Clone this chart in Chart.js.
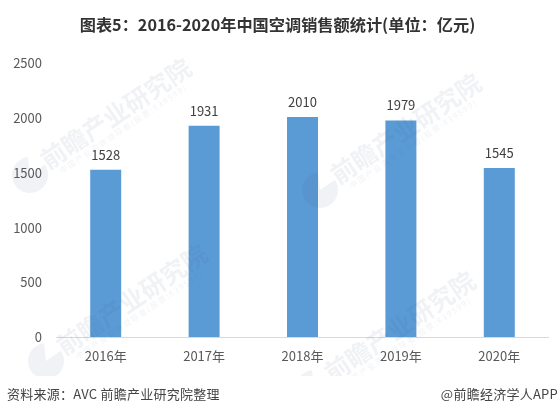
<!DOCTYPE html>
<html lang="zh-CN">
<head>
<meta charset="utf-8">
<title>中国空调销售额统计</title>
<script src="https://cdn.jsdelivr.net/npm/chart.js@4"></script>
<style>
  html, body { margin: 0; padding: 0; background: #fff; }
  #wrap { position: relative; width: 558px; height: 415px; overflow: hidden; font-family: "Noto Sans CJK SC", sans-serif; }
  #chart { position: absolute; left: 0; top: 0; }
  #title { position: absolute; left: 0; width: 555px; top: 13px; text-align: center; font-size: 16.2px; line-height: 22px; font-weight: 700; color: #333; white-space: nowrap; }
  .foot { position: absolute; top: 385px; font-size: 13px; line-height: 18px; color: #444; white-space: nowrap; letter-spacing: 0.25px; }
</style>
</head>
<body>
<div id="wrap">
  <canvas id="chart" width="558" height="415"></canvas>
  <div id="title">图表5：2016-2020年中国空调销售额统计(单位：亿元)</div>
  <div class="foot" style="left:7px">资料来源：AVC 前瞻产业研究院整理</div>
  <div class="foot" style="right:0">@前瞻经济学人APP</div>
</div>
<script>
const years = ["2016年", "2017年", "2018年", "2019年", "2020年"];
const sales = [1528, 1931, 2010, 1979, 1545];
const yTicks = [0, 500, 1000, 1500, 2000, 2500];

const COLORS = { bar: "#5B9BD5", tick: "#595959", label: "#404040", axis: "#D9D9D9" };
const FONT = "'Noto Sans CJK SC', sans-serif";

// watermark anchors (logo centre), the same stamp four times
const stamps = [[30, 175], [320, 190], [46, 361], [314, 388]];

const valueLabels = {
  id: "valueLabels",
  afterDatasetsDraw(chart) {
    const { ctx } = chart;
    ctx.save();
    ctx.font = "13px " + FONT;
    ctx.fillStyle = COLORS.label;
    ctx.textAlign = "center";
    ctx.textBaseline = "middle";
    chart.getDatasetMeta(0).data.forEach((bar, i) => {
      ctx.fillText(sales[i], bar.x, bar.y - 15);
    });
    ctx.restore();
  },
};

const watermark = {
  id: "watermark",
  afterDatasetsDraw(chart) {
    const { ctx } = chart;
    ctx.save();
    ctx.beginPath();
    ctx.rect(0, 0, 558, 376);
    ctx.clip();
    stamps.forEach(([x, y]) => {
      ctx.save();
      ctx.translate(x, y);
      ctx.fillStyle = "rgba(70,90,130,0.08)";
      ctx.beginPath();
      ctx.moveTo(0, 0);
      ctx.arc(0, 0, 18, -0.6, 4.6);
      ctx.closePath();
      ctx.fill();
      ctx.rotate(-34 * Math.PI / 180);
      ctx.textAlign = "left";
      ctx.textBaseline = "middle";
      ctx.font = "bold 25px " + FONT;
      ctx.fillText("前瞻产业研究院", 18, -3);
      ctx.font = "8px " + FONT;
      ctx.letterSpacing = "1.5px";
      ctx.fillText("中国产业咨询领导者(股票:839599)", 27, 14);
      ctx.restore();
    });
    ctx.restore();
  },
};

new Chart(document.getElementById("chart"), {
  type: "bar",
  data: {
    labels: years,
    datasets: [{ data: sales, backgroundColor: COLORS.bar, barPercentage: 0.315, categoryPercentage: 1 }],
  },
  options: {
    responsive: false,
    animation: false,
    layout: { padding: { left: 0, right: 9.5, top: 63.5, bottom: 50 } },
    plugins: { legend: { display: false }, tooltip: { enabled: false } },
    scales: {
      x: {
        grid: { display: false, drawTicks: false },
        border: { color: COLORS.axis, width: 1 },
        ticks: { color: COLORS.tick, font: { family: FONT, size: 13 }, padding: 11.5, maxRotation: 0 },
        afterFit(s) { s.height = 28; },
      },
      y: {
        min: 0,
        max: 2500,
        grid: { display: false, drawTicks: false },
        border: { display: false },
        afterBuildTicks(s) { s.ticks = yTicks.map((value) => ({ value })); },
        ticks: { color: COLORS.tick, font: { family: FONT, size: 13 }, padding: 14.5, callback: (v) => String(v) },
        afterFit(s) { s.width = 56.5; },
      },
    },
  },
  plugins: [watermark, valueLabels],
});
</script>
</body>
</html>
